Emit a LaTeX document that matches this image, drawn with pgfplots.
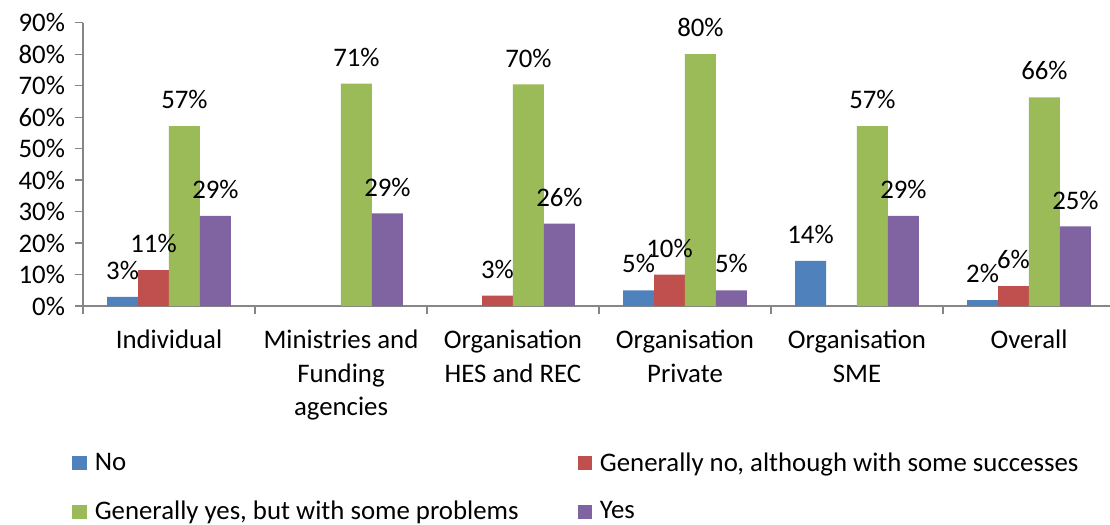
\documentclass[border=0pt]{standalone}
\usepackage{fontspec}
\setmainfont{Carlito}
\usepackage{pgfplots}
\pgfplotsset{compat=1.18}
\definecolor{cNo}{HTML}{4F81BD}
\definecolor{cGN}{HTML}{C0504D}
\definecolor{cGY}{HTML}{9BBB59}
\definecolor{cYes}{HTML}{8064A2}
\definecolor{axgray}{HTML}{868686}
\newcommand{\cf}{\fontsize{13.4}{16.8}\selectfont}
\begin{document}
\begin{tikzpicture}
\path[use as bounding box] (-41.5pt,-109.5pt) rectangle (513.5pt,153pt);
\begin{axis}[
  at={(0pt,0pt)}, anchor=south west,
  scale only axis, width=516pt, height=141.67pt,
  xmin=-0.5, xmax=5.5, ymin=0, ymax=90,
  axis x line=bottom, axis y line=left,
  axis line style={-, draw=axgray, line width=0.6pt},
  ybar=0pt, bar width=0.18,
  xtick={-0.5,0.5,...,5.5}, xticklabels={},
  major tick length=4pt, tick align=outside,
  tick style={draw=axgray, line width=0.6pt},
  extra x ticks={0,1,2,3,4,5},
  extra x tick labels={Individual,{Ministries and\\Funding\\agencies},{Organisation\\HES and REC},{Organisation\\Private},{Organisation\\SME},Overall},
  extra x tick style={major tick length=0pt, tick style={draw=none}},
  x tick label style={align=center, font=\cf, yshift=-8.5pt},
  ytick={0,10,...,90},
  yticklabel={\pgfmathprintnumber{\tick}\%},
  y tick label style={font=\cf, xshift=-1.5pt},
  /pgf/number format/assume math mode=true,
  nodes near coords, point meta=explicit symbolic,
  nodes near coords style={font=\cf, black, yshift=5pt},
  legend columns=2,
  legend cell align=left,
  legend style={draw=none, font=\cf, at={(0,0)}, anchor=north west, xshift=-8.5pt, yshift=-69pt, /tikz/every even column/.append style={column sep=27.5pt}, /tikz/every odd column/.append style={column sep=2pt}, row sep=9.5pt},
  legend image code/.code={\fill[#1] (0pt,-3.6pt) rectangle (7.2pt,3.6pt);},
]
\addplot[fill=cNo, draw=none, bar shift=-0.27] coordinates {(0,2.9)[3\%] (3,5)[5\%] (4,14.3)[14\%] (5,1.9)[2\%]};
\addplot[fill=cGN, draw=none, bar shift=-0.09] coordinates {(0,11.4)[11\%] (2,3.3)[3\%] (3,10)[10\%] (5,6.3)[6\%]};
\addplot[fill=cGY, draw=none, bar shift=0.09] coordinates {(0,57.1)[57\%] (1,70.6)[71\%] (2,70.4)[70\%] (3,80)[80\%] (4,57.1)[57\%] (5,66.3)[66\%]};
\addplot[fill=cYes, draw=none, bar shift=0.27] coordinates {(0,28.6)[29\%] (1,29.4)[29\%] (2,26.2)[26\%] (3,5)[5\%] (4,28.6)[29\%] (5,25.3)[25\%]};
\legend{No, {Generally no, although with some successes}, {Generally yes, but with some problems}, Yes}
\end{axis}
\end{tikzpicture}
\end{document}
